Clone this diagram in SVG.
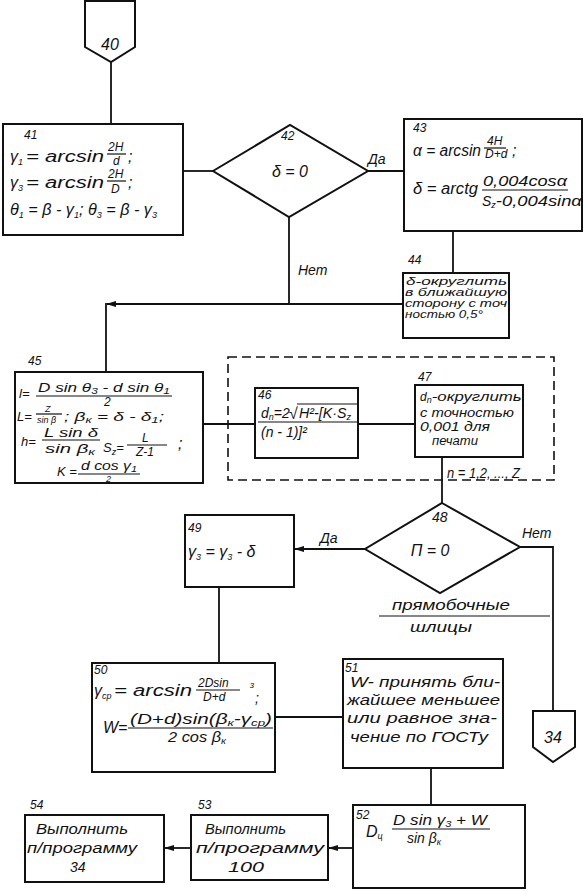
<svg xmlns="http://www.w3.org/2000/svg" width="584" height="891" viewBox="0 0 584 891">
<defs>
<style>
.b{fill:#fff;stroke:#111;stroke-width:2}
.c{fill:none;stroke:#111;stroke-width:1.8}
.fb{stroke:#111;stroke-width:1.2}
text{font-family:"Liberation Sans",Arial,sans-serif;font-style:italic;fill:#111}
.t{font-size:16px}
.m{font-size:14px}
.k{font-size:13px}
.s{font-size:12px}
.x{font-size:10.5px}
.n{font-size:12px}
.u{font-size:9px}
</style>
<marker id="ah" viewBox="0 0 10 6" refX="9" refY="3" markerWidth="10" markerHeight="6" markerUnits="userSpaceOnUse" orient="auto">
<path d="M0,0 L10,3 L0,6 Z" fill="#111"/>
</marker>
</defs>
<rect width="584" height="891" fill="#fff"/>

<g id="connectors">
<path class="c" d="M111,62 V124"/>
<path class="c" d="M183,171 H213"/>
<path class="c" d="M368,171 H404"/>
<path class="c" d="M453,231 V273"/>
<path class="c" d="M289,217 V304"/>
<path class="c" d="M403,304 H107" marker-end="url(#ah)"/>
<path class="c" d="M106,303 V372"/>
<path class="c" d="M203,424 H255"/>
<path class="c" d="M358,424 H415"/>
<path class="c" d="M442,457 V503"/>
<path class="c" d="M365,549 H295" marker-end="url(#ah)"/>
<path class="c" d="M520,547 H553 V711"/>
<path class="c" d="M219,587 V663"/>
<path class="c" d="M275,717 H343"/>
<path class="c" d="M431,768 V805"/>
<path class="c" d="M353,848 H329" marker-end="url(#ah)"/>
<path class="c" d="M191,848 H165" marker-end="url(#ah)"/>
<rect x="228" y="357" width="326" height="123" fill="none" stroke="#111" stroke-width="1.6" stroke-dasharray="9,5"/>
<text class="m" x="368" y="164">Да</text>
<text class="m" x="298" y="275">Нет</text>
<text class="m" x="447" y="478" textLength="73" lengthAdjust="spacingAndGlyphs">n = 1,2, ..., Z</text>
<text class="m" x="320" y="543">Да</text>
<text class="m" x="522" y="538">Нет</text>
<text class="m" x="392" y="610" textLength="118" lengthAdjust="spacingAndGlyphs">прямобочные</text>
<line class="fb" x1="379" y1="616" x2="550" y2="616"/>
<text class="m" x="410" y="632" textLength="62" lengthAdjust="spacingAndGlyphs">шлицы</text>
</g>

<g id="n40">
<path class="b" d="M85,1 H135 V47 L111,62 L85,47 Z"/>
<text class="t" x="110" y="50" text-anchor="middle" font-size="17">40</text>
</g>

<g id="n41">
<rect class="b" x="3" y="124" width="180" height="111"/>
<text class="n" x="24" y="139">41</text>
<text class="t" x="10" y="162">γ<tspan class="u" dy="3">1</tspan><tspan dy="-3" x="26" textLength="78" lengthAdjust="spacingAndGlyphs">= arcsin</tspan></text>
<text class="s" x="108" y="151">2H</text>
<line class="fb" x1="107" y1="154" x2="126" y2="154"/>
<text class="s" x="113" y="165" font-size="11">d</text>
<text class="t" x="128" y="162">;</text>
<text class="t" x="10" y="188">γ<tspan class="u" dy="3">3</tspan><tspan dy="-3" x="26" textLength="78" lengthAdjust="spacingAndGlyphs">= arcsin</tspan></text>
<text class="s" x="108" y="178">2H</text>
<line class="fb" x1="107" y1="181" x2="126" y2="181"/>
<text class="s" x="111" y="193">D</text>
<text class="t" x="128" y="188">;</text>
<text class="t" x="10" y="215" textLength="147" lengthAdjust="spacingAndGlyphs">θ<tspan class="u" dy="3">1</tspan><tspan dy="-3"> = β - γ</tspan><tspan class="u" dy="3">1</tspan><tspan dy="-3">; θ</tspan><tspan class="u" dy="3">3</tspan><tspan dy="-3"> = β - γ</tspan><tspan class="u" dy="3">3</tspan></text>
</g>

<g id="n42">
<polygon class="b" points="213,171 290,125 368,171 289,217"/>
<text class="n" x="281" y="140">42</text>
<text class="t" x="290" y="177" text-anchor="middle">δ = 0</text>
</g>

<g id="n43">
<rect class="b" x="404" y="119" width="178" height="112"/>
<text class="n" x="413" y="132">43</text>
<text class="t" x="413" y="156" textLength="68" lengthAdjust="spacingAndGlyphs">α = arcsin</text>
<text class="s" x="487" y="145" font-size="11">4H</text>
<line class="fb" x1="484" y1="148" x2="506" y2="148"/>
<text class="s" x="485" y="158" font-size="10">D+d</text>
<text class="t" x="512" y="156">;</text>
<text class="t" x="413" y="194" textLength="65" lengthAdjust="spacingAndGlyphs">δ = arctg</text>
<text class="m" x="483" y="186" textLength="84" lengthAdjust="spacingAndGlyphs">0,004cosα</text>
<line class="fb" x1="482" y1="190" x2="568" y2="190"/>
<text class="m" x="482" y="206">S<tspan class="u" dy="2">z</tspan><tspan dy="-2" textLength="86" lengthAdjust="spacingAndGlyphs">-0,004sinα</tspan></text>
</g>

<g id="n44">
<rect class="b" x="403" y="273" width="106" height="65"/>
<text class="n" x="408" y="264">44</text>
<text class="x" x="406" y="285" textLength="101" lengthAdjust="spacingAndGlyphs">δ-округлить</text>
<text class="x" x="405" y="296" textLength="102" lengthAdjust="spacingAndGlyphs">в ближайшую</text>
<text class="x" x="405" y="307" textLength="102" lengthAdjust="spacingAndGlyphs">сторону с точ</text>
<text class="x" x="405" y="318" textLength="78" lengthAdjust="spacingAndGlyphs">ностью 0,5°</text>
</g>

<g id="n45">
<rect class="b" x="15" y="372" width="188" height="111"/>
<text class="n" x="28" y="365">45</text>
<text class="k" x="19" y="398">l=</text>
<text class="k" x="38" y="392" textLength="132" lengthAdjust="spacingAndGlyphs">D sin θ<tspan class="u" dy="2">3</tspan><tspan dy="-2"> - d sin θ</tspan><tspan class="u" dy="2">1</tspan></text>
<line class="fb" x1="36" y1="396" x2="172" y2="396"/>
<text class="s" x="104" y="406" font-size="10">2</text>
<text class="k" x="17" y="421">L=</text>
<text class="u" x="45" y="412">Z</text>
<line class="fb" x1="36" y1="414" x2="62" y2="414"/>
<text class="u" x="37" y="423">sin β</text>
<text class="k" x="64" y="421" textLength="100" lengthAdjust="spacingAndGlyphs">; β<tspan class="u" dy="2">к</tspan><tspan dy="-2"> = δ - δ</tspan><tspan class="u" dy="2">1</tspan><tspan dy="-2">;</tspan></text>
<text class="k" x="21" y="446">h=</text>
<text class="k" x="44" y="437" textLength="54" lengthAdjust="spacingAndGlyphs">L sin δ</text>
<line class="fb" x1="42" y1="440" x2="100" y2="440"/>
<text class="k" x="45" y="453" textLength="50" lengthAdjust="spacingAndGlyphs">sin β<tspan class="u" dy="2">к</tspan></text>
<text class="k" x="103" y="452">S<tspan class="u" dy="3">z</tspan><tspan dy="-3">=</tspan></text>
<text class="s" x="142" y="442" font-size="11">L</text>
<line class="fb" x1="127" y1="445" x2="167" y2="445"/>
<text class="s" x="136" y="456" font-size="11">Z-1</text>
<text class="t" x="178" y="449">;</text>
<text class="k" x="57" y="476">K =</text>
<text class="k" x="81" y="470" textLength="56" lengthAdjust="spacingAndGlyphs">d cos γ<tspan class="u" dy="2">1</tspan></text>
<line class="fb" x1="78" y1="474" x2="140" y2="474"/>
<text class="u" x="106" y="482">2</text>
</g>

<g id="n46">
<rect class="b" x="255" y="388" width="103" height="70"/>
<text class="n" x="258" y="399">46</text>
<text class="m" x="261" y="418">d<tspan class="u" dy="2">n</tspan><tspan dy="-2">=2</tspan></text>
<text class="t" x="289" y="419">√</text>
<line class="fb" x1="297" y1="404" x2="357" y2="404"/>
<text class="m" x="299" y="418" textLength="52" lengthAdjust="spacingAndGlyphs">H²-[K·S<tspan class="u" dy="2">z</tspan></text>
<line class="fb" x1="258" y1="422" x2="357" y2="422"/>
<text class="m" x="261" y="437">(n - 1)]²</text>
</g>

<g id="n47">
<rect class="b" x="415" y="385" width="108" height="72"/>
<text class="n" x="418" y="381">47</text>
<text class="s" x="420" y="401">d<tspan class="u" dy="2">n</tspan><tspan dy="-2" textLength="90" lengthAdjust="spacingAndGlyphs">-округлить</tspan></text>
<text class="s" x="420" y="417" textLength="94" lengthAdjust="spacingAndGlyphs">с точностью</text>
<text class="s" x="420" y="431" textLength="70" lengthAdjust="spacingAndGlyphs">0,001 для</text>
<text class="s" x="432" y="445" textLength="46" lengthAdjust="spacingAndGlyphs">печати</text>
</g>

<g id="n48">
<polygon class="b" points="442,503 520,547 440,593 365,549"/>
<text class="m" x="432" y="522">48</text>
<text class="t" x="430" y="556" text-anchor="middle">П = 0</text>
</g>

<g id="n49">
<rect class="b" x="185" y="515" width="109" height="72"/>
<text class="n" x="188" y="532">49</text>
<text class="t" x="188" y="557">γ<tspan class="u" dy="3">3</tspan><tspan dy="-3"> = γ</tspan><tspan class="u" dy="3">3</tspan><tspan dy="-3"> - δ</tspan></text>
</g>

<g id="n50">
<rect class="b" x="92" y="663" width="183" height="109"/>
<text class="n" x="94" y="674">50</text>
<text class="t" x="94" y="696">γ<tspan class="u" dy="3">ср</tspan><tspan dy="-3" x="114" textLength="78" lengthAdjust="spacingAndGlyphs">= arcsin</tspan></text>
<text class="s" x="198" y="687">2Dsin</text>
<line class="fb" x1="196" y1="690" x2="240" y2="690"/>
<text class="s" x="203" y="701">D+d</text>
<text class="u" x="250" y="688" font-size="10">з</text>
<text class="m" x="255" y="703">;</text>
<text class="t" x="103" y="733">W=</text>
<text class="m" x="130" y="724" textLength="142" lengthAdjust="spacingAndGlyphs">(D+d)sin(β<tspan class="u" dy="2">к</tspan><tspan dy="-2">-γ</tspan><tspan class="u" dy="2">ср</tspan><tspan dy="-2">)</tspan></text>
<line class="fb" x1="128" y1="728" x2="273" y2="728"/>
<text class="m" x="168" y="742" textLength="58" lengthAdjust="spacingAndGlyphs">2 cos β<tspan class="u" dy="2">к</tspan></text>
</g>

<g id="n51">
<rect class="b" x="343" y="659" width="160" height="109"/>
<text class="n" x="345" y="672">51</text>
<text class="m" x="350" y="687" textLength="150" lengthAdjust="spacingAndGlyphs">W- принять бли-</text>
<text class="m" x="347" y="705" textLength="153" lengthAdjust="spacingAndGlyphs">жайшее меньшее</text>
<text class="m" x="347" y="723" textLength="150" lengthAdjust="spacingAndGlyphs">или равное зна-</text>
<text class="m" x="350" y="742" textLength="138" lengthAdjust="spacingAndGlyphs">чение по ГОСТу</text>
</g>

<g id="n34">
<path class="b" d="M533,711 H575 V747 L553,762 L533,747 Z"/>
<text class="t" x="553" y="743" text-anchor="middle" font-size="17">34</text>
</g>

<g id="n52">
<rect class="b" x="353" y="805" width="172" height="83"/>
<text class="n" x="356" y="819">52</text>
<text class="t" x="366" y="837">D<tspan class="u" dy="2">ц</tspan></text>
<text class="m" x="393" y="825" textLength="94" lengthAdjust="spacingAndGlyphs">D sin γ<tspan class="u" dy="2">3</tspan><tspan dy="-2"> + W</tspan></text>
<line class="fb" x1="392" y1="829" x2="490" y2="829"/>
<text class="m" x="407" y="843">sin β<tspan class="u" dy="2">к</tspan></text>
</g>

<g id="n53">
<rect class="b" x="191" y="815" width="137" height="65"/>
<text class="n" x="198" y="809">53</text>
<text class="m" x="205" y="834" textLength="81" lengthAdjust="spacingAndGlyphs">Выполнить</text>
<text class="m" x="196" y="853" textLength="128" lengthAdjust="spacingAndGlyphs">п/программу</text>
<text class="m" x="228" y="872" textLength="36" lengthAdjust="spacingAndGlyphs">100</text>
</g>

<g id="n54">
<rect class="b" x="25" y="815" width="139" height="67"/>
<text class="n" x="30" y="809">54</text>
<text class="m" x="36" y="834" textLength="92" lengthAdjust="spacingAndGlyphs">Выполнить</text>
<text class="m" x="27" y="853" textLength="110" lengthAdjust="spacingAndGlyphs">п/программу</text>
<text class="m" x="70" y="872">34</text>
</g>
</svg>
